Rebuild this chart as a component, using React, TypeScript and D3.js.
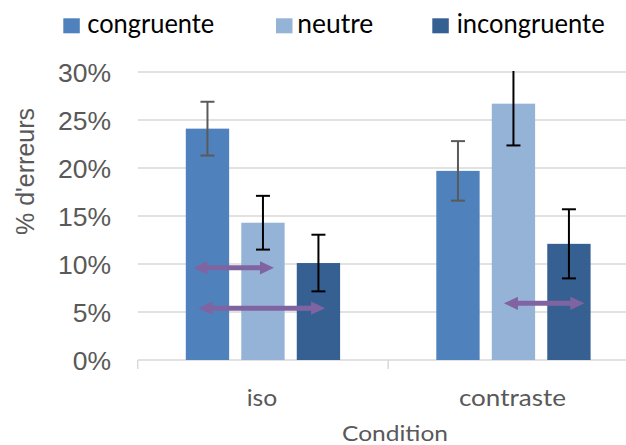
import React from "react";
import * as d3 from "d3";

const categories = ["iso", "contraste"];
const series = ["congruente", "neutre", "incongruente"];
const isoValues = [24.1, 14.3, 10.1];
const contrasteValues = [19.7, 26.7, 12.1];
const isoErrors = [2.8, 2.8, 2.95];
const contrasteErrors = [3.1, 4.35, 3.6];
const yTicks = [0, 5, 10, 15, 20, 25, 30];
const yTickLabels = ["0%", "5%", "10%", "15%", "20%", "25%", "30%"];
// arrows: category, y value (%), start and end as fraction of the category band
const arrowCats = ["iso", "iso", "contraste"];
const arrowY = [9.6, 5.4, 5.9];
const arrowFrom = [0.222, 0.242, 0.462];
const arrowTo = [0.544, 0.748, 0.783];

const W = 626;
const H = 445;
const colors = ["#4F81BD", "#95B3D7", "#376092"];
const errColors = ["#5a5a5a", "#000000", "#000000"];
const arrowColor = "#8064A2";
const grid = "#D9D9D9";
const textGray = "#595959";
const calibri = "Lato, 'Open Sans', sans-serif";
const arial = "'Liberation Sans', Arial, sans-serif";

export default function App() {
  const values = [isoValues, contrasteValues];
  const errors = [isoErrors, contrasteErrors];
  const y = d3.scaleLinear().domain([0, 30]).range([360, 72]);
  const x0 = d3.scaleBand().domain(categories).range([137.7, 638.7]).padding(0);
  const x1 = d3
    .scaleBand()
    .domain(series)
    .range([0, x0.bandwidth()])
    .paddingInner(0.219)
    .paddingOuter(0.867);
  const bw = x1.bandwidth();
  const capHalf = 7;

  const legendSquareX = [63.3, 276, 432.3];
  const legendTextX = [87.3, 297.3, 456.7];
  const legendTextW = [127, 76, 148];

  const arrowPath = (xa: number, xb: number, yc: number) => {
    const p = d3.path();
    const head = 14;
    const hh = 6.7;
    const sh = 2.5;
    p.moveTo(xa, yc);
    p.lineTo(xa + head, yc - hh);
    p.lineTo(xa + head, yc - sh);
    p.lineTo(xb - head, yc - sh);
    p.lineTo(xb - head, yc - hh);
    p.lineTo(xb, yc);
    p.lineTo(xb - head, yc + hh);
    p.lineTo(xb - head, yc + sh);
    p.lineTo(xa + head, yc + sh);
    p.lineTo(xa + head, yc + hh);
    p.closePath();
    return p.toString();
  };

  return (
    <svg
      width={W}
      height={H}
      style={{ position: "absolute", left: 0, top: 0, background: "#fff" }}
    >
      <defs>
        <clipPath id="plotClip">
          <rect x={0} y={71} width={W} height={H} />
        </clipPath>
      </defs>
      {/* gridlines */}
      {yTicks.map((t) => (
        <line
          key={t}
          x1={x0.range()[0]}
          x2={W}
          y1={y(t)}
          y2={y(t)}
          stroke={grid}
          strokeWidth={1.5}
        />
      ))}
      {/* category ticks */}
      {[...categories.map((c) => x0(c)!), x0.range()[1]].map((xv, i) => (
        <line
          key={i}
          x1={xv}
          x2={xv}
          y1={y(0)}
          y2={y(0) + 9}
          stroke={grid}
          strokeWidth={1.5}
        />
      ))}
      {/* y tick labels */}
      {yTicks.map((t, i) => (
        <text
          key={t}
          x={111}
          y={y(t) + 9.5}
          textAnchor="end"
          fontFamily={arial}
          fontSize={26.5}
          fill={textGray}
        >
          {yTickLabels[i]}
        </text>
      ))}
      {/* y title */}
      <text
        transform={`translate(${34},${171.5}) rotate(-90)`}
        textAnchor="middle"
        fontFamily={arial}
        fontSize={25}
        fill={textGray}
      >
        % d'erreurs
      </text>
      {/* bars */}
      {categories.map((c, ci) =>
        series.map((s, si) => (
          <rect
            key={c + s}
            x={x0(c)! + x1(s)!}
            y={y(values[ci][si])}
            width={bw}
            height={y(0) - y(values[ci][si])}
            fill={colors[si]}
          />
        ))
      )}
      {/* error bars */}
      <g clipPath="url(#plotClip)">
        {categories.map((c, ci) =>
          series.map((s, si) => {
            const cx = x0(c)! + x1(s)! + bw / 2;
            const v = values[ci][si];
            const e = errors[ci][si];
            const yt = y(v + e);
            const yb = y(v - e);
            return (
              <g key={c + s} stroke={errColors[si]} strokeWidth={2}>
                <line x1={cx} x2={cx} y1={yt} y2={yb} />
                <line x1={cx - capHalf} x2={cx + capHalf} y1={yt} y2={yt} />
                <line x1={cx - capHalf} x2={cx + capHalf} y1={yb} y2={yb} />
              </g>
            );
          })
        )}
      </g>
      {/* arrows */}
      {arrowCats.map((c, i) => {
        const xa = x0(c)! + arrowFrom[i] * x0.bandwidth();
        const xb = x0(c)! + arrowTo[i] * x0.bandwidth();
        return (
          <path key={i} d={arrowPath(xa, xb, y(arrowY[i]))} fill={arrowColor} />
        );
      })}
      {/* x labels */}
      {categories.map((c, ci) => (
        <text
          key={c}
          x={x0(c)! + x0.bandwidth() / 2 - 1}
          y={405.7}
          textAnchor="middle"
          fontFamily={calibri}
          fontSize={23}
          fill={textGray}
          textLength={ci === 0 ? 30.6 : 107}
          lengthAdjust="spacingAndGlyphs"
        >
          {c}
        </text>
      ))}
      <text
        x={395}
        y={440.5}
        textAnchor="middle"
        fontFamily={calibri}
        fontSize={22}
        fill={textGray}
        textLength={106}
        lengthAdjust="spacingAndGlyphs"
      >
        Condition
      </text>
      {/* legend */}
      {series.map((s, i) => (
        <g key={s}>
          <rect x={legendSquareX[i]} y={18.3} width={16.5} height={15} fill={colors[i]} />
          <text
            x={legendTextX[i]}
            y={33.3}
            fontFamily={calibri}
            fontSize={27}
            fill="#000"
            textLength={legendTextW[i]}
            lengthAdjust="spacingAndGlyphs"
          >
            {s}
          </text>
        </g>
      ))}
    </svg>
  );
}
